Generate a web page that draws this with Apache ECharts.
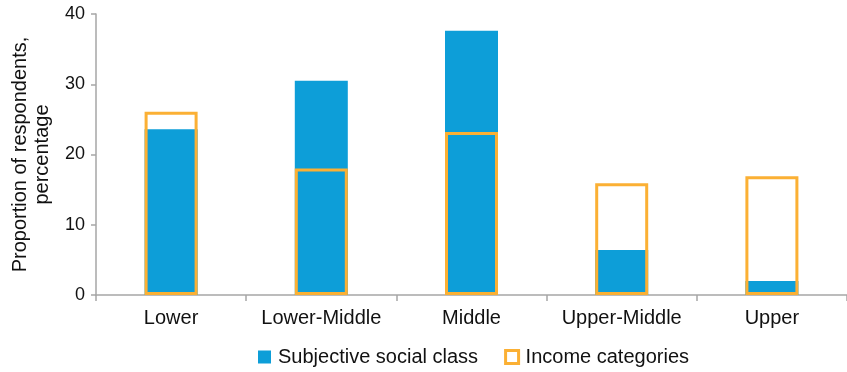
<!DOCTYPE html>
<html>
<head>
<meta charset="utf-8">
<script src="https://cdn.jsdelivr.net/npm/echarts@6/dist/echarts.min.js"></script>
<style>html,body{margin:0;padding:0;background:#fff}#c{width:847px;height:372px}</style>
</head>
<body>
<div id="c"></div>
<script>
const categories = ['Lower', 'Lower-Middle', 'Middle', 'Upper-Middle', 'Upper'];
const subjectiveClass = [23.6, 30.5, 37.6, 6.4, 2.0];
const incomeCategories = [26.1, 18.0, 23.2, 15.9, 16.9];
const yTicks = [0, 10, 20, 30, 40];

const BLUE = '#0D9ED8';
const ORANGE = '#FBB034';
const AXIS = '#A6A6A6';
const FONT = 'Liberation Sans, Arial, sans-serif';

const chart = echarts.init(document.getElementById('c'));
chart.setOption({
  animation: false,
  textStyle: { fontFamily: FONT },
  grid: { left: 96, right: 0, top: 14, bottom: 77, containLabel: false, outerBoundsMode: 'none' },
  legend: {
    top: 342,
    left: 253,
    itemWidth: 13,
    itemHeight: 13,
    itemGap: 26,
    textStyle: { fontSize: 20, color: '#111', fontFamily: FONT, padding: [0, 0, 0, 2] },
    data: [
      { name: 'Subjective social class', icon: 'rect', itemStyle: { color: BLUE, borderWidth: 0 } },
      { name: 'Income categories', icon: 'rect', itemStyle: { color: '#fff', borderColor: ORANGE, borderWidth: 3 } }
    ]
  },
  xAxis: {
    type: 'category',
    data: categories,
    axisLine: { lineStyle: { color: AXIS, width: 1.5 } },
    axisTick: { show: true, length: 6, lineStyle: { color: AXIS, width: 1.5 } },
    axisLabel: { interval: 0, fontSize: 20, color: '#111', margin: 13, fontFamily: FONT }
  },
  yAxis: {
    type: 'value',
    min: yTicks[0],
    max: yTicks[yTicks.length - 1],
    interval: 10,
    name: 'Proportion of respondents,\npercentage',
    nameLocation: 'middle',
    nameGap: 43,
    nameRotate: 90,
    nameTextStyle: { fontSize: 20, color: '#111', lineHeight: 22, fontFamily: FONT },
    splitLine: { show: false },
    axisLine: { show: true, lineStyle: { color: AXIS, width: 1.5 } },
    axisTick: { show: true, length: 5, lineStyle: { color: AXIS, width: 1.5 } },
    axisLabel: { fontSize: 18, color: '#111', margin: 11, fontFamily: FONT }
  },
  series: [
    {
      name: 'Subjective social class',
      type: 'bar',
      data: subjectiveClass,
      barWidth: 53,
      barGap: '-100%',
      itemStyle: { color: BLUE }
    },
    {
      name: 'Income categories',
      type: 'bar',
      data: incomeCategories,
      barWidth: 53,
      barGap: '-100%',
      itemStyle: { color: 'rgba(0,0,0,0)', borderColor: ORANGE, borderWidth: 3 }
    }
  ]
});
</script>
</body>
</html>
